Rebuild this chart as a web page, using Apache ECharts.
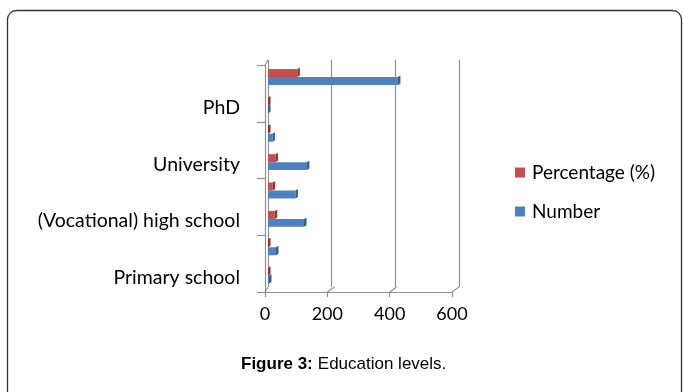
<!DOCTYPE html>
<html>
<head>
<meta charset="utf-8">
<script src="https://cdn.jsdelivr.net/npm/echarts@6/dist/echarts.min.js"></script>
<style>
  html, body { margin: 0; padding: 0; background: #fff; }
  #chart { width: 683px; height: 392px; }
</style>
</head>
<body>
<div id="chart"></div>
<script>
// Education levels: respondents per level and their share of the total
const categories = ['Primary school', 'Secondary school', '(Vocational) high school', 'Associate degree',
  'University', "Master's degree", 'PhD', 'Total'];
const numberValues = [11, 33, 121, 94, 130, 22, 5, 416];
const percentValues = [2.6, 7.9, 29.1, 22.6, 31.3, 5.3, 1.2, 100];
const xTicks = [0, 200, 400, 600];

const FONT = 'Lato, "Open Sans", sans-serif';
const CAPTION_FONT = '"Liberation Sans", Arial, sans-serif';
const GRID_COLOR = '#909090';

// Horizontal bar with a thin bevelled right-hand side, placed in a slice of its category band
function bar3d(fill, side, topFrac, botFrac) {
  return function (params, api) {
    const cat = api.value(0);
    const val = api.value(1);
    const a = api.coord([0, cat]);
    const b = api.coord([val, cat]);
    const h = api.size([0, 1])[1];
    const y0 = a[1] + topFrac * h;
    const y1 = a[1] + botFrac * h;
    const d = 2.5;
    const xf = Math.max(a[0], b[0] - d);
    return {
      type: 'group',
      children: [
        { type: 'rect', shape: { x: a[0], y: y0, width: xf - a[0], height: y1 - y0 }, style: { fill: fill } },
        { type: 'polygon', shape: { points: [[xf, y0], [xf + d, y0 - d * 0.6], [xf + d, y1 - d * 0.6], [xf, y1]] },
          style: { fill: side } }
      ]
    };
  };
}

// Floor edges joining the front axis to the back wall lines
function floorEdges(params, api) {
  const v = api.value(0);
  const cs = params.coordSys;
  const p = api.coord([v, 0]);
  const yb = cs.y + cs.height;
  const dx = v === 0 ? 3 : 7;
  const children = [
    { type: 'line', shape: { x1: p[0], y1: yb, x2: p[0] + dx, y2: yb - 5 },
      style: { stroke: GRID_COLOR, lineWidth: 1.2 } }
  ];
  if (v === 0) {
    children.push({ type: 'line', shape: { x1: p[0], y1: cs.y, x2: p[0] + dx, y2: cs.y - 5 },
      style: { stroke: GRID_COLOR, lineWidth: 1.2 } });
  }
  return { type: 'group', children: children };
}

const chart = echarts.init(document.getElementById('chart'), null, { renderer: 'canvas' });

chart.setOption({
  backgroundColor: '#ffffff',
  animation: false,
  textStyle: { fontFamily: FONT },
  title: {
    left: 236,
    top: 350,
    text: '{b|Figure 3:} {r|Education levels.}',
    textStyle: {
      fontWeight: 'normal',
      fontFamily: CAPTION_FONT,
      rich: {
        b: { fontFamily: CAPTION_FONT, fontWeight: 'bold', fontSize: 17, color: '#000' },
        r: { fontFamily: CAPTION_FONT, fontWeight: 'normal', fontSize: 17, color: '#000' }
      }
    }
  },
  legend: {
    orient: 'vertical',
    left: 510,
    top: 157,
    itemWidth: 10,
    itemHeight: 10,
    itemGap: 18,
    icon: 'rect',
    data: ['Percentage (%)', 'Number'],
    textStyle: { fontFamily: FONT, fontSize: 19, color: '#000', lineHeight: 21, padding: [0, 0, 0, 2] }
  },
  graphic: [
    { type: 'rect', z: -1, shape: { x: 7.5, y: 10.5, width: 674, height: 400, r: 9 },
      style: { fill: 'none', stroke: '#333333', lineWidth: 1.3 } }
  ],
  grid: [
    // back wall
    { left: 268, right: 224, top: 60, bottom: 105 },
    // front edge
    { left: 265, right: 231, top: 65, bottom: 100 }
  ],
  xAxis: [
    { gridIndex: 0, type: 'value', min: 0, max: 600, interval: 200,
      axisLine: { show: false }, axisTick: { show: false }, axisLabel: { show: false },
      splitLine: { show: true, lineStyle: { color: GRID_COLOR, width: 1.2 } } },
    { gridIndex: 1, type: 'value', min: 0, max: 600, interval: 200,
      axisLine: { show: true, lineStyle: { color: GRID_COLOR, width: 1.2 } },
      axisTick: { show: true, length: 5, lineStyle: { color: GRID_COLOR, width: 1.2 } },
      axisLabel: { show: true, margin: 13, fontSize: 18, color: '#000', fontFamily: FONT,
        formatter: function (v) { return xTicks.indexOf(v) >= 0 ? String(v) : ''; } },
      splitLine: { show: false } }
  ],
  yAxis: [
    { gridIndex: 0, type: 'category', data: categories,
      axisLine: { show: false }, axisTick: { show: false }, axisLabel: { show: false }, splitLine: { show: false } },
    { gridIndex: 1, type: 'category', data: categories,
      axisLine: { show: true, lineStyle: { color: GRID_COLOR, width: 1.2 } },
      axisTick: { show: true, length: 8, lineStyle: { color: GRID_COLOR, width: 1.2 } },
      axisLabel: { show: true, interval: 1, margin: 25, fontSize: 19.5, color: '#000', fontFamily: FONT },
      splitLine: { show: false } }
  ],
  series: [
    {
      name: 'Percentage (%)',
      type: 'custom',
      xAxisIndex: 0, yAxisIndex: 0,
      itemStyle: { color: '#C0504D' },
      encode: { x: 1, y: 0 },
      renderItem: bar3d('#C0504D', '#8A3735', -0.18, 0.1),
      data: percentValues.map(function (v, i) { return [i, v]; }),
      z: 3
    },
    {
      name: 'Number',
      type: 'custom',
      xAxisIndex: 0, yAxisIndex: 0,
      itemStyle: { color: '#4F81BD' },
      encode: { x: 1, y: 0 },
      renderItem: bar3d('#4F81BD', '#385E8C', 0.1, 0.38),
      data: numberValues.map(function (v, i) { return [i, v]; }),
      z: 3
    },
    {
      name: 'edges',
      type: 'custom',
      xAxisIndex: 1, yAxisIndex: 1,
      silent: true,
      encode: { x: 0 },
      renderItem: floorEdges,
      data: xTicks.map(function (v) { return [v]; }),
      z: 1
    }
  ]
});
</script>
</body>
</html>
